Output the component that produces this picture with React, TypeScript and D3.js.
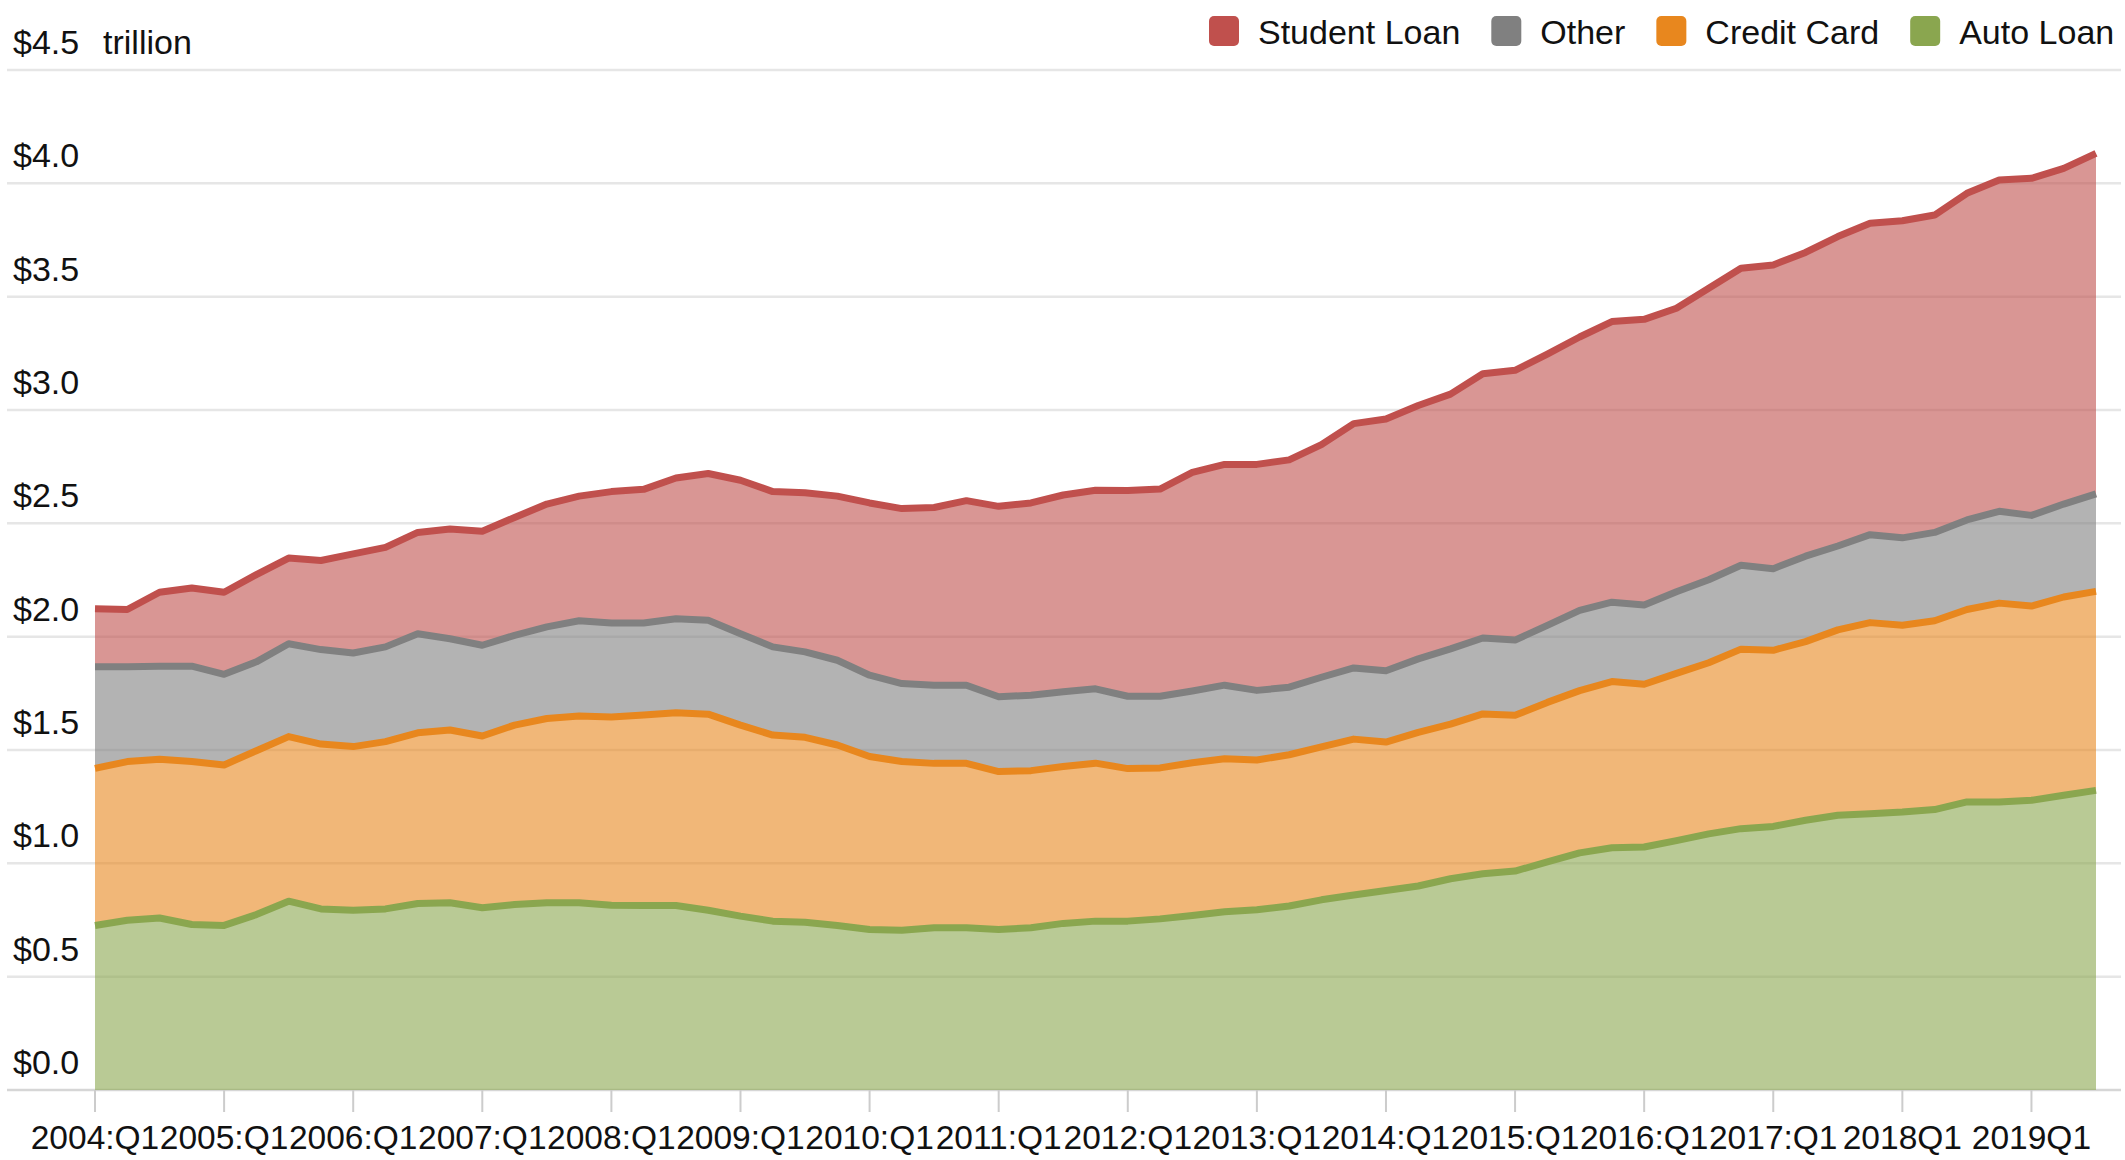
import React, { useRef, useEffect } from 'react';
import * as d3 from 'd3';

// quarterly non-housing debt, trillions of dollars, 2004:Q1 .. 2019:Q3
const autoLoan = [
  0.726, 0.749, 0.759, 0.730, 0.726, 0.774, 0.833, 0.799, 0.793, 0.799,
  0.823, 0.826, 0.804, 0.818, 0.826, 0.826, 0.815, 0.814, 0.814, 0.793,
  0.767, 0.745, 0.740, 0.726, 0.708, 0.705, 0.716, 0.716, 0.708, 0.716,
  0.735, 0.745, 0.745, 0.755, 0.770, 0.786, 0.795, 0.812, 0.839, 0.860,
  0.880, 0.900, 0.932, 0.954, 0.966, 1.006, 1.046, 1.069, 1.072, 1.100,
  1.130, 1.153, 1.163, 1.190, 1.212, 1.219, 1.226, 1.237, 1.271, 1.271,
  1.278, 1.300, 1.322,
];
const creditCard = [
  0.693, 0.700, 0.700, 0.719, 0.708, 0.723, 0.726, 0.727, 0.722, 0.738,
  0.753, 0.762, 0.758, 0.792, 0.813, 0.824, 0.831, 0.840, 0.850, 0.865,
  0.843, 0.821, 0.816, 0.796, 0.763, 0.744, 0.725, 0.725, 0.697, 0.693,
  0.692, 0.697, 0.673, 0.666, 0.674, 0.675, 0.661, 0.667, 0.675, 0.688,
  0.655, 0.678, 0.682, 0.705, 0.687, 0.704, 0.716, 0.733, 0.718, 0.738,
  0.755, 0.792, 0.777, 0.788, 0.818, 0.843, 0.824, 0.833, 0.849, 0.877,
  0.857, 0.875, 0.878,
];
const other = [
  0.448, 0.418, 0.411, 0.421, 0.400, 0.392, 0.410, 0.417, 0.413, 0.418,
  0.437, 0.403, 0.400, 0.396, 0.404, 0.420, 0.414, 0.406, 0.415, 0.414,
  0.403, 0.389, 0.377, 0.374, 0.359, 0.344, 0.345, 0.345, 0.330, 0.333,
  0.330, 0.328, 0.319, 0.316, 0.316, 0.325, 0.307, 0.298, 0.307, 0.314,
  0.315, 0.324, 0.332, 0.335, 0.332, 0.340, 0.354, 0.350, 0.350, 0.360,
  0.366, 0.370, 0.360, 0.377, 0.370, 0.388, 0.386, 0.390, 0.395, 0.405,
  0.400, 0.410, 0.430,
];
const studentLoan = [
  0.256, 0.253, 0.326, 0.345, 0.362, 0.385, 0.378, 0.393, 0.437, 0.439,
  0.447, 0.484, 0.503, 0.520, 0.542, 0.550, 0.580, 0.590, 0.621, 0.648,
  0.677, 0.685, 0.702, 0.724, 0.760, 0.772, 0.784, 0.814, 0.840, 0.848,
  0.868, 0.876, 0.908, 0.914, 0.965, 0.974, 0.997, 1.003, 1.026, 1.078,
  1.110, 1.118, 1.124, 1.166, 1.190, 1.197, 1.206, 1.238, 1.260, 1.251,
  1.286, 1.310, 1.340, 1.340, 1.365, 1.374, 1.399, 1.400, 1.441, 1.462,
  1.487, 1.481, 1.502,
];

const tickLabels = [
  '2004:Q1', '2005:Q1', '2006:Q1', '2007:Q1', '2008:Q1', '2009:Q1', '2010:Q1', '2011:Q1',
  '2012:Q1', '2013:Q1', '2014:Q1', '2015:Q1', '2016:Q1', '2017:Q1', '2018Q1', '2019Q1',
];
const yTicks = [0, 0.5, 1, 1.5, 2, 2.5, 3, 3.5, 4, 4.5];

// stacking order, bottom to top
const seriesKeys = ['Auto Loan', 'Credit Card', 'Other', 'Student Loan'];
const seriesValues = [autoLoan, creditCard, other, studentLoan];
const seriesColors = ['#8aa64f', '#e8871e', '#808080', '#c0504d'];

const quarters: string[] = [];
for (let i = 0; i < autoLoan.length; i++) {
  quarters.push(`${2004 + Math.floor(i / 4)}:Q${(i % 4) + 1}`);
}

const FONT = '"Liberation Sans", Arial, sans-serif';

const App = () => {
  const svgRef = useRef<SVGSVGElement | null>(null);

  useEffect(() => {
    if (!svgRef.current) return;

    const width = 2125;
    const height = 1160;
    const plotLeft = 95;
    const plotRight = 2096;
    const plotTop = 70;
    const plotBottom = 1090;

    const svg = d3.select(svgRef.current);
    svg.selectAll('*').remove();
    svg.attr('width', width).attr('height', height);

    const rows = quarters.map((q, i) => {
      const row: any = { quarter: q };
      seriesKeys.forEach((k, j) => { row[k] = seriesValues[j][i]; });
      return row;
    });
    const stacked = d3.stack().keys(seriesKeys)(rows);

    const x = d3.scalePoint().domain(quarters).range([plotLeft, plotRight]);
    const y = d3.scaleLinear().domain([0, 4.5]).range([plotBottom, plotTop]);
    const color = d3.scaleOrdinal<string>().domain(seriesKeys).range(seriesColors);

    // gridlines
    svg.append('g')
      .selectAll('line')
      .data(yTicks)
      .enter()
      .append('line')
      .attr('x1', 7)
      .attr('x2', 2121)
      .attr('y1', d => y(d))
      .attr('y2', d => y(d))
      .attr('stroke', d => (d === 0 ? '#d6d6d6' : '#e6e6e6'))
      .attr('stroke-width', 2.5);

    // y labels sit above their gridline
    svg.append('g')
      .selectAll('text')
      .data(yTicks)
      .enter()
      .append('text')
      .attr('x', 13)
      .attr('y', d => y(d) - 16)
      .attr('font-family', FONT)
      .attr('font-size', 34)
      .attr('fill', '#111')
      .text(d => `$${d.toFixed(1)}`);

    svg.append('text')
      .attr('x', 103)
      .attr('y', y(4.5) - 16)
      .attr('font-family', FONT)
      .attr('font-size', 34)
      .attr('fill', '#111')
      .text('trillion');

    // x ticks and labels at each Q1
    const tickQuarters = quarters.filter((q, i) => i % 4 === 0);
    const xAxis = svg.append('g');
    xAxis.selectAll('line')
      .data(tickQuarters)
      .enter()
      .append('line')
      .attr('x1', d => x(d) as number)
      .attr('x2', d => x(d) as number)
      .attr('y1', plotBottom)
      .attr('y2', plotBottom + 22)
      .attr('stroke', '#cccccc')
      .attr('stroke-width', 2);

    xAxis.selectAll('text')
      .data(tickQuarters)
      .enter()
      .append('text')
      .attr('x', d => x(d) as number)
      .attr('y', plotBottom + 59)
      .attr('text-anchor', 'middle')
      .attr('font-family', FONT)
      .attr('font-size', 33.5)
      .attr('fill', '#111')
      .text((d, i) => tickLabels[i]);

    const area = d3.area<any>()
      .x(d => x(d.data.quarter) as number)
      .y0(d => y(d[0]))
      .y1(d => y(d[1]));

    const line = d3.line<any>()
      .x(d => x(d.data.quarter) as number)
      .y(d => y(d[1]));

    // fills first, then outlines so that no fill tints a line
    svg.append('g')
      .selectAll('path')
      .data(stacked)
      .enter()
      .append('path')
      .attr('d', d => area(d as any))
      .attr('fill', d => color(d.key))
      .attr('fill-opacity', 0.6);

    svg.append('g')
      .selectAll('path')
      .data(stacked)
      .enter()
      .append('path')
      .attr('d', d => line(d as any))
      .attr('fill', 'none')
      .attr('stroke', d => color(d.key))
      .attr('stroke-width', 7)
      .attr('stroke-linejoin', 'round');

    // legend, top-down order
    const legend = svg.append('g');
    let lx = 1209;
    seriesKeys.slice().reverse().forEach(key => {
      legend.append('rect')
        .attr('x', lx)
        .attr('y', 16)
        .attr('width', 30)
        .attr('height', 30)
        .attr('rx', 5)
        .attr('fill', color(key));
      const label = legend.append('text')
        .attr('x', lx + 49)
        .attr('y', 44)
        .attr('font-family', FONT)
        .attr('font-size', 34)
        .attr('fill', '#111')
        .text(key);
      const w = (label.node() as SVGTextElement).getComputedTextLength();
      lx += 49 + w + 31;
    });
  }, []);

  return (
    <svg ref={svgRef} style={{ position: 'absolute', left: 0, top: 0, display: 'block' }}></svg>
  );
};

export default App;
